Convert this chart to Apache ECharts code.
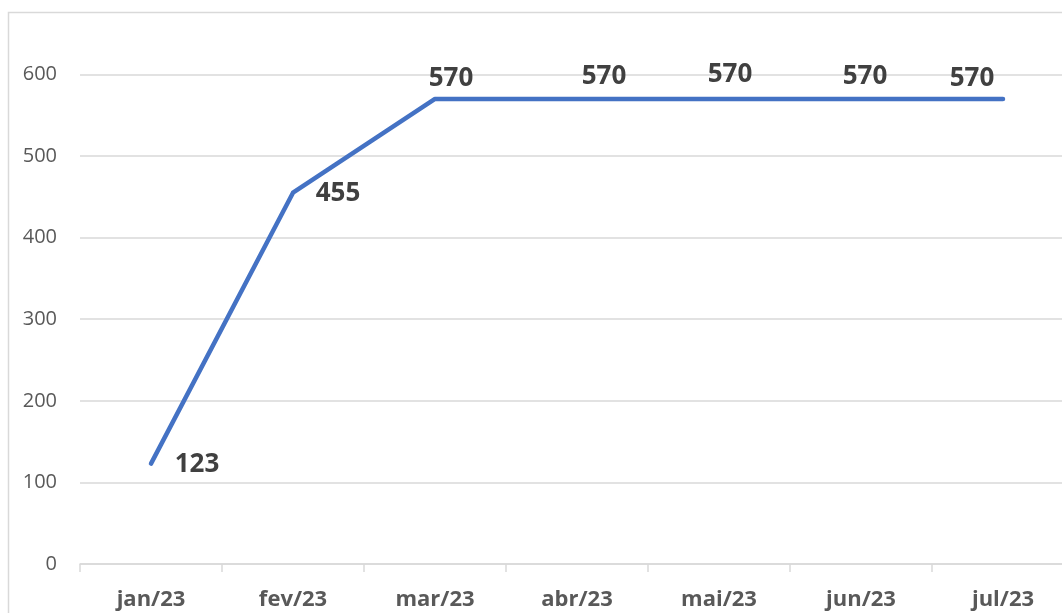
<!DOCTYPE html>
<html><head><meta charset="utf-8">
<script src="https://cdn.jsdelivr.net/npm/echarts@6/dist/echarts.min.js"></script>
<style>html,body{margin:0;padding:0;background:#fff}#c{width:1062px;height:613px}</style>
</head><body><div id="c"></div>
<script>
const categories = ['jan/23','fev/23','mar/23','abr/23','mai/23','jun/23','jul/23'];
const values = [123, 455, 570, 570, 570, 570, 570];
const yTicks = [0, 100, 200, 300, 400, 500, 600];
const labelOffsets = [[46,1],[45,1],[16,-20],[27,-22],[11,-24],[4,-22],[-31,-20]];

const chart = echarts.init(document.getElementById('c'), null, {renderer:'canvas'});
chart.setOption({
  animation:false,
  backgroundColor:'#fff',
  graphic:[{type:'rect',shape:{x:8.5,y:12.5,width:1200,height:800},style:{fill:'none',stroke:'#d9d9d9',lineWidth:1.5},z:-1}],
  grid:{left:80,width:994,top:74.4,height:489.6,containLabel:false,outerBoundsMode:'none'},
  xAxis:{type:'category',data:categories,boundaryGap:true,
    axisLine:{lineStyle:{color:'#d9d9d9',width:1.5}},
    axisTick:{show:true,length:8,lineStyle:{color:'#d9d9d9',width:1.5}},
    axisLabel:{color:'#595959',fontFamily:'Open Sans',fontWeight:'bold',fontSize:22,margin:25}},
  yAxis:{type:'value',min:yTicks[0],max:yTicks[yTicks.length-1],interval:100,
    axisLine:{show:false},axisTick:{show:false},
    splitLine:{lineStyle:{color:'#d9d9d9',width:1.5}},
    axisLabel:{color:'#595959',fontFamily:'Open Sans',fontSize:20,margin:23}},
  series:[{type:'line',
    data:values.map((v,i)=>({value:v,label:{offset:labelOffsets[i]}})),
    symbol:'circle',symbolSize:0.1,showSymbol:true,
    lineStyle:{color:'#4472C4',width:4.5,cap:'round',join:'round'},
    itemStyle:{color:'#4472C4'},
    label:{show:true,position:'inside',color:'#404040',fontFamily:'Open Sans',fontWeight:'bold',fontSize:26}
  }]
});
</script></body></html>
